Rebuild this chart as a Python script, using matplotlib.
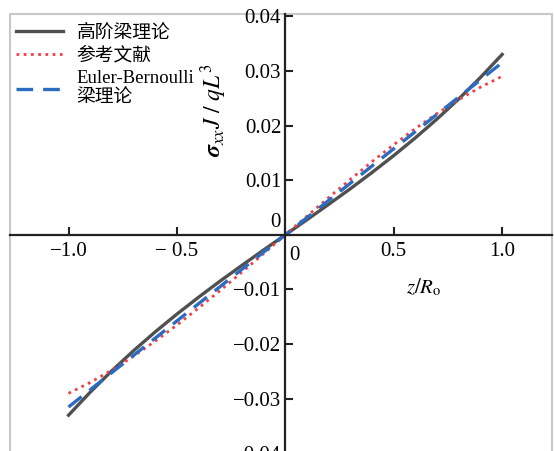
import matplotlib
matplotlib.use("Agg")
import matplotlib.pyplot as plt
import numpy as np

plt.rcParams['font.family'] = ['Liberation Serif', 'Noto Sans CJK SC']
plt.rcParams['mathtext.fontset'] = 'stix'

z = [-1.0, -0.9, -0.8, -0.7, -0.6, -0.5, -0.4, -0.3, -0.2, -0.1, 0.0,
     0.1, 0.2, 0.3, 0.4, 0.5, 0.6, 0.7, 0.8, 0.9, 1.0]
high_order = [-0.0330, -0.02879, -0.02486, -0.02120, -0.01775, -0.01450, -0.01141, -0.00844,
              -0.00558, -0.00277, 0.0, 0.00277, 0.00558, 0.00844, 0.01141, 0.01450,
              0.01775, 0.02120, 0.02486, 0.02879, 0.0330]
reference = [-0.0290, -0.02701, -0.02474, -0.02221, -0.01945, -0.01650, -0.01339, -0.01016,
             -0.00682, -0.00343, 0.0, 0.00343, 0.00682, 0.01016, 0.01339, 0.01650,
             0.01945, 0.02221, 0.02474, 0.02701, 0.0290]
euler = [-0.0315, -0.02835, -0.0252, -0.02205, -0.0189, -0.01575, -0.0126, -0.00945,
         -0.0063, -0.00315, 0.0, 0.00315, 0.0063, 0.00945, 0.0126, 0.01575,
         0.0189, 0.02205, 0.0252, 0.02835, 0.0315]

xticks = [-1.0, -0.5, 0.0, 0.5, 1.0]
xticklabels = ['−1.0', '− 0.5', '', '0.5', '1.0']
yticks = [-0.04, -0.03, -0.02, -0.01, 0.0, 0.01, 0.02, 0.03, 0.04]
yticklabels = ['−0.04', '−0.03', '−0.02', '−0.01', '', '0.01', '0.02', '0.03', '0.04']
labels = ['高阶梁理论', '参考文献', 'Euler-Bernoulli\n梁理论']

fig = plt.figure(figsize=(5.54, 4.51), dpi=100)
ax = fig.add_axes([10/554, -0.02, 542/554, (451-14)/451 + 0.02])

ax.plot(z, high_order, color='#505050', lw=2.4, ls='-', label=labels[0])
ax.plot(z, reference, color='#f0404a', lw=2.0, ls=(0, (1, 1.6)), label=labels[1])
ax.plot(z, euler, color='#2c6cc0', lw=2.4, ls=(0, (5, 3)), label=labels[2])

ax.set_xlim(-1.27, 1.23)
ax.set_ylim(-0.0412, 0.0404)

for s in ['top', 'right']:
    ax.spines[s].set_visible(False)
ax.spines['left'].set_position(('data', 0))
ax.spines['bottom'].set_position(('data', 0))
ax.spines['left'].set_linewidth(1.6)
ax.spines['bottom'].set_linewidth(1.6)
ax.spines['left'].set_color('#222222')
ax.spines['bottom'].set_color('#222222')

frame = plt.Rectangle((0, 0), 1, 1, transform=ax.transAxes, fill=False,
                      edgecolor='#c8c8c8', lw=1.5, clip_on=False)
ax.add_patch(frame)

ax.set_xticks(xticks)
ax.set_xticklabels(xticklabels)
ax.set_yticks(yticks)
ax.set_yticklabels(yticklabels)
ax.tick_params(axis='both', direction='in', length=6, width=1.5, labelsize=15, color='#222222')
ax.tick_params(axis='x', pad=5)
ax.tick_params(axis='y', pad=3)

ax.text(-0.02, 0.0006, '0', ha='right', va='bottom', fontsize=15)
ax.text(0.02, -0.0020, '0', ha='left', va='top', fontsize=15)

ax.text(-0.33, 0.0228, r'$\boldsymbol{\sigma}_{xx}J\ /\ qL^3$', rotation=90,
        ha='center', va='center', fontsize=17)
ax.text(0.64, -0.0097, r'$z/R_{\rm o}$', ha='center', va='center', fontsize=15)

leg = ax.legend(loc='upper left', frameon=False, fontsize=13.5, handlelength=2.5,
                bbox_to_anchor=(0.0, 0.99), labelspacing=0.3, handletextpad=0.75,
                borderaxespad=0.0, borderpad=0.3)

fig.savefig('out.png', dpi=100)
